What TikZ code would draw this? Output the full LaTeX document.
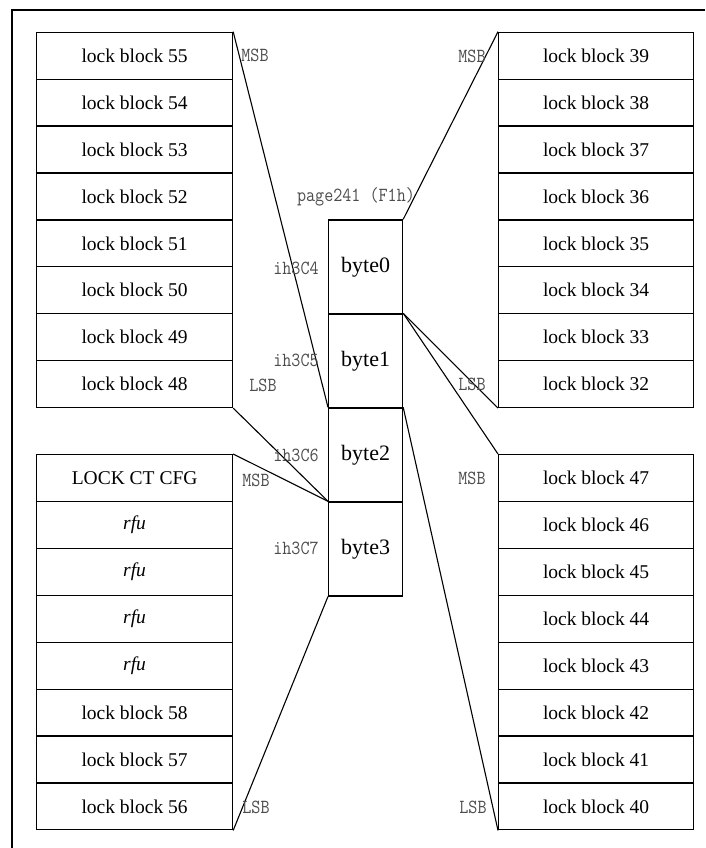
\documentclass[tikz,border=0pt]{standalone}
\usepackage{fontspec}
\setmainfont{Liberation Serif}
\newfontfamily\lblfont[FakeStretch=0.88]{Latin Modern Mono}
\begin{document}
\begin{tikzpicture}[x=1pt,y=-1pt,
  blk/.style={draw=black, line width=1.2pt, minimum width=196pt, minimum height=46.9pt, inner sep=0pt, anchor=north west, font=\fontsize{19.5}{22}\selectfont},
  bytebox/.style={draw=black, line width=1.2pt, minimum width=74pt, minimum height=94pt, inner sep=0pt, anchor=north west, font=\fontsize{22}{24}\selectfont},
  lbl/.style={text=black!70, inner sep=0pt, font=\lblfont\fontsize{20}{22}\selectfont},
  conn/.style={draw=black, line width=1.1pt}]
\useasboundingbox (0,0) rectangle (705,848);
% frame
\coordinate (fTL) at (12,10);
\coordinate (fTR) at (705,10);
\coordinate (fBL) at (12,848);
\draw[line width=1.1pt] (fBL) -- (fTL) -- (fTR);
% left top group
\foreach \n [count=\i from 0] in {55,54,53,52,51,50,49,48}
  \node[blk] (b\n) at (36,{31.7+\i*46.9}) {lock block \n};
% right top group
\foreach \n [count=\i from 0] in {39,38,37,36,35,34,33,32}
  \node[blk, minimum width=195pt] (b\n) at (498,{31.7+\i*46.9}) {lock block \n};
% right bottom group
\foreach \n [count=\i from 0] in {47,46,45,44,43,42,41,40}
  \node[blk, minimum width=195pt] (b\n) at (498,{454+\i*46.9}) {lock block \n};
% left bottom group
\node[blk] (cfg) at (36,454) {LOCK CT CFG};
\foreach \i in {1,2,3,4}
  \node[blk] (rfu\i) at (36,{454+\i*46.9}) {\itshape rfu};
\node[blk] (b58) at (36,{454+5*46.9}) {lock block 58};
\node[blk] (b57) at (36,{454+6*46.9}) {lock block 57};
\node[blk] (b56) at (36,{454+7*46.9}) {lock block 56};
% byte boxes
\node[bytebox] (byte0) at (328,219.3) {byte0};
\node[bytebox] (byte1) at (328,313.3) {byte1};
\node[bytebox] (byte2) at (328,407.3) {byte2};
\node[bytebox] (byte3) at (328,501.3) {byte3};
% connectors
\draw[conn] (b55.north east) -- (byte2.north west);
\draw[conn] (b48.south east) -- (byte3.north west);
\draw[conn] (cfg.north east) -- (byte3.north west);
\draw[conn] (b56.south east) -- (byte3.south west);
\draw[conn] (byte0.north east) -- (b39.north west);
\draw[conn] (byte1.north east) -- (b32.south west);
\draw[conn] (byte1.north east) -- (b47.north west);
\draw[conn] (byte2.north east) -- (b40.south west);
% labels
\node[lbl] (msbL1) at (255,55) {MSB};
\node[lbl] (lsbL1) at (263,385) {LSB};
\node[lbl] (msbL2) at (256,480) {MSB};
\node[lbl] (lsbL2) at (256,807) {LSB};
\node[lbl] (msbR1) at (472,56) {MSB};
\node[lbl] (lsbR1) at (472,384) {LSB};
\node[lbl] (msbR2) at (472,478) {MSB};
\node[lbl] (lsbR2) at (473,807) {LSB};
\node[lbl] (pg) at (356,197) {page241 (F1h)};
\node[lbl] (a4) at (296,268) {ih3C4};
\node[lbl] (a5) at (296,360) {ih3C5};
\node[lbl] (a6) at (296,455) {ih3C6};
\node[lbl] (a7) at (296,548) {ih3C7};
\end{tikzpicture}
\end{document}
